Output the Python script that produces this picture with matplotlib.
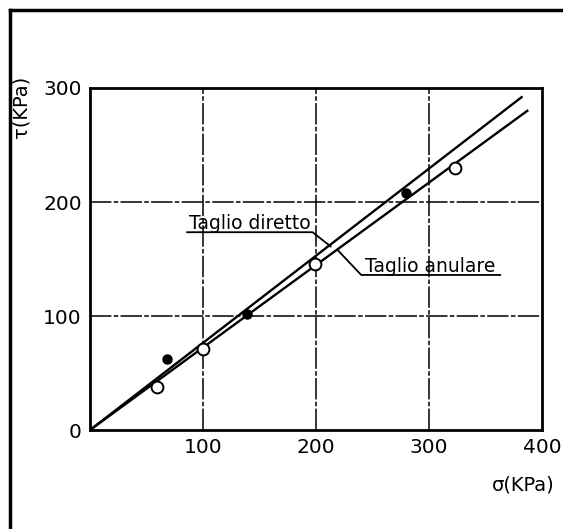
import matplotlib
matplotlib.use("Agg")
import matplotlib.pyplot as plt
from matplotlib.lines import Line2D

# Normal stress (kPa) vs shear strength (kPa)
open_sigma = [59, 100, 199, 323]
open_tau = [38, 71, 146, 230]
filled_sigma = [68, 139, 280]
filled_tau = [62, 102, 208]

# Failure envelopes (start and end points)
diretto_sigma = [0, 382]
diretto_tau = [0, 292]
anulare_sigma = [0, 387]
anulare_tau = [0, 280]

x_ticks = [100, 200, 300, 400]
y_ticks = [0, 100, 200, 300]

plt.rcParams['font.family'] = ['DejaVu Sans']

fig = plt.figure(figsize=(5.63, 5.29), dpi=100)
ax = fig.add_axes([90 / 563, 99 / 529, 452 / 563, 342 / 529])
ax.set_xlim(0, 400)
ax.set_ylim(0, 300)

grid_ls = (0, (14, 1.5, 3, 1.5))
for x in [100, 200, 300]:
    ax.axvline(x, color='black', lw=1.1, ls=grid_ls, zorder=1)
for y in [100, 200]:
    ax.axhline(y, color='black', lw=1.1, ls=grid_ls, zorder=1)

ax.plot(diretto_sigma, diretto_tau, color='black', lw=1.7, zorder=2)
ax.plot(anulare_sigma, anulare_tau, color='black', lw=1.7, zorder=2)

ax.plot(open_sigma, open_tau, 'o', ms=8.5, mfc='white', mec='black', mew=1.4, zorder=3)
ax.plot(filled_sigma, filled_tau, 'o', ms=6.5, mfc='black', mec='black', zorder=3)

# Labels with leaders
ax.text(141, 176.5, 'Taglio diretto', ha='center', va='baseline', fontsize=13.5)
ax.plot([86, 197, 213], [173.5, 173.5, 161], color='black', lw=1.3)
ax.text(301, 139, 'Taglio anulare', ha='center', va='baseline', fontsize=13.5)
ax.plot([219, 240, 363], [158, 136, 136], color='black', lw=1.3)

ax.set_xticks(x_ticks)
ax.set_yticks(y_ticks)
ax.set_xticklabels([str(v) for v in x_ticks], fontsize=14.5)
ax.set_yticklabels([str(v) for v in y_ticks], fontsize=14.5)
ax.tick_params(length=0, pad=6)
for s in ax.spines.values():
    s.set_linewidth(2)

fig.text(523 / 563, 1 - 485 / 529, 'σ(KPa)', ha='center', va='center', fontsize=14)
fig.text(21 / 563, 1 - 107 / 529, 'τ(KPa)', ha='center', va='center', fontsize=14, rotation=90)

# Page frame
fig.add_artist(Line2D([10 / 563, 10 / 563], [0, 1 - 10 / 529], color='black', lw=2.5, transform=fig.transFigure))
fig.add_artist(Line2D([10 / 563, 1], [1 - 10 / 529, 1 - 10 / 529], color='black', lw=2.5, transform=fig.transFigure))

fig.savefig('out.png', dpi=100)
